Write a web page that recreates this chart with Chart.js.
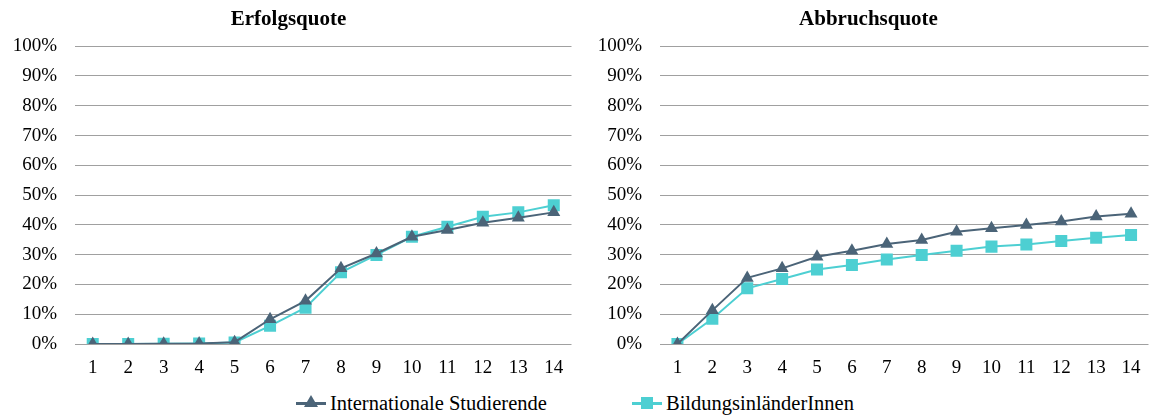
<!DOCTYPE html>
<html>
<head>
<meta charset="utf-8">
<script src="https://cdn.jsdelivr.net/npm/chart.js@4.4.1/dist/chart.umd.min.js"></script>
<style>
  html, body { margin: 0; padding: 0; background: #ffffff; }
  #wrap { position: relative; width: 1157px; height: 416px; overflow: hidden; font-family: "Liberation Serif", serif; }
  #box_left { position: absolute; left: 0; top: 0; width: 580px; height: 385px; }
  #box_right { position: absolute; left: 580px; top: 0; width: 577px; height: 385px; }
  #legend { position: absolute; left: 296px; top: 390px; display: flex; font-size: 20.5px; color: #000; }
  .item { display: flex; align-items: center; }
  .item + .item { position: absolute; left: 336px; top: 0; }
  .mark { position: relative; width: 30px; height: 26px; margin-right: 4px; }
  .mark .ln { position: absolute; left: 0; right: 0; top: 12px; height: 2.5px; }
  .tri { position: absolute; left: 8px; top: 5px; width: 0; height: 0; border-left: 7px solid transparent; border-right: 7px solid transparent; border-bottom: 12px solid #4b6478; }
  .sq { position: absolute; left: 9px; top: 7px; width: 12px; height: 12px; background: #4dcfd2; }
</style>
</head>
<body>
<div id="wrap">
  <div id="box_left"><canvas id="chart_left"></canvas></div>
  <div id="box_right"><canvas id="chart_right"></canvas></div>
  <div id="legend">
    <div class="item"><div class="mark"><div class="ln" style="background:#4b6478"></div><div class="tri"></div></div><span>Internationale Studierende</span></div>
    <div class="item"><div class="mark"><div class="ln" style="background:#4dcfd2"></div><div class="sq"></div></div><span>BildungsinländerInnen</span></div>
  </div>
</div>
<script>
const semesters = ["1","2","3","4","5","6","7","8","9","10","11","12","13","14"];

const series_names = ["Internationale Studierende", "BildungsinländerInnen"];

// Erfolgsquote (in %)
const erfolg_international = [0, 0, 0.1, 0.2, 0.6, 8.3, 14.5, 25.4, 30.4, 36.0, 38.3, 40.7, 42.4, 44.2];
const erfolg_inlaender     = [0, 0, 0.1, 0.2, 0.5, 6.1, 12.2, 24.1, 29.9, 36.0, 39.4, 42.7, 44.2, 46.6];

// Abbruchsquote (in %)
const abbruch_international = [0, 11.3, 22.2, 25.4, 29.3, 31.3, 33.6, 34.9, 37.7, 38.9, 40.0, 41.1, 42.8, 43.7];
const abbruch_inlaender     = [0, 8.5, 18.7, 21.8, 25.0, 26.5, 28.4, 29.9, 31.3, 32.7, 33.4, 34.6, 35.7, 36.6];

const color_international = "#4b6478";
const color_inlaender = "#4dcfd2";
const grid_color = "#a0a0a0";
const font_family = "'Liberation Serif', serif";

function make_chart(canvas_id, title, data_int, data_inl, y_width, right_pad) {
  return new Chart(
    document.getElementById(canvas_id),
    {
      type: 'line',
      data: {
        labels: semesters,
        datasets: [{
          label: series_names[0],
          data: data_int,
          borderColor: color_international,
          backgroundColor: color_international,
          borderWidth: 2,
          pointStyle: 'triangle',
          pointRadius: 7.5,
          pointBorderWidth: 0,
          tension: 0
        }, {
          label: series_names[1],
          data: data_inl,
          borderColor: color_inlaender,
          backgroundColor: color_inlaender,
          borderWidth: 2,
          pointStyle: 'rect',
          pointRadius: 8.5,
          pointBorderWidth: 0,
          tension: 0
        }]
      },
      options: {
        responsive: true,
        maintainAspectRatio: false,
        animation: false,
        layout: { padding: { left: 0, right: right_pad, top: 0, bottom: 0 } },
        scales: {
          x: {
            type: 'category',
            offset: true,
            grid: { display: false, drawTicks: false },
            border: { display: false },
            ticks: { color: '#000', padding: 13, font: { family: font_family, size: 19 }, maxRotation: 0, autoSkip: false },
            afterFit: function (scale) { scale.height = 41; }
          },
          y: {
            min: 0,
            max: 100,
            grid: { color: grid_color, lineWidth: 1, drawTicks: false },
            border: { display: false },
            ticks: {
              stepSize: 10,
              color: '#000',
              padding: 18,
              font: { family: font_family, size: 19 },
              callback: function (v) { return v + "%"; }
            },
            afterFit: function (scale) { scale.width = y_width; }
          }
        },
        plugins: {
          legend: { display: false },
          tooltip: { enabled: false },
          title: {
            display: true,
            text: title,
            color: '#000',
            font: { family: font_family, size: 21, weight: 'bold' },
            padding: { top: 7, bottom: 14 }
          }
        },
        events: []
      }
    });
}

make_chart('chart_left', 'Erfolgsquote', erfolg_international, erfolg_inlaender, 75, 3);
make_chart('chart_right', 'Abbruchsquote', abbruch_international, abbruch_inlaender, 80, 0);
</script>
</body>
</html>
